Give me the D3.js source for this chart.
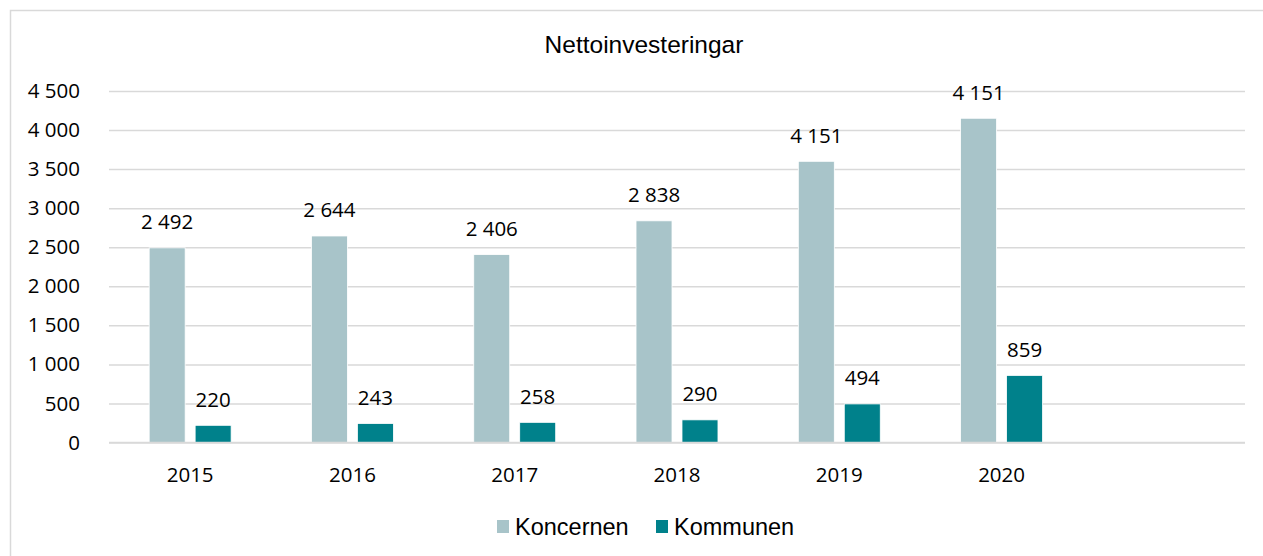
<!DOCTYPE html>
<html>
<head>
<meta charset="utf-8">
<script src="https://cdn.jsdelivr.net/npm/d3@7"></script>
<style>
  html, body { margin: 0; padding: 0; background: #fff; }
  svg { display: block; }
</style>
</head>
<body>
<svg id="chart" width="1263" height="556"></svg>
<script>
// ── Data ──────────────────────────────────────────────────────────────────────
const CATEGORIES   = ['2015', '2016', '2017', '2018', '2019', '2020', ''];
const SERIES       = ['Koncernen', 'Kommunen'];
const KONCERNEN    = [2492, 2644, 2406, 2838, 3600, 4151];
const KOMMUNEN     = [220, 243, 258, 290, 494, 859];
// labels as printed in the source (2019 label repeats 4 151)
const KONCERNEN_LABELS = [2492, 2644, 2406, 2838, 4151, 4151];
const KOMMUNEN_LABELS  = [220, 243, 258, 290, 494, 859];
const Y_TICKS      = [0, 500, 1000, 1500, 2000, 2500, 3000, 3500, 4000, 4500];
const TITLE        = 'Nettoinvesteringar';

// ── Style ─────────────────────────────────────────────────────────────────────
const COLORS   = { Koncernen: '#a8c4c9', Kommunen: '#00818b' };
const GRID     = '#d9d9d9';
const NUM_FONT = '"Open Sans", sans-serif';
const TXT_FONT = '"Liberation Sans", Arial, sans-serif';

const W = 1263, H = 556;
const plot = { left: 109, right: 1245, top: 91, bottom: 442.5 };

const fmt = d3.formatLocale({ decimal: ',', thousands: ' ', grouping: [3], currency: ['', ''] }).format(',d');

const svg = d3.select('#chart');

// chart frame
svg.append('rect')
  .attr('x', 10.5).attr('y', 10.5)
  .attr('width', W + 20).attr('height', H + 20)
  .attr('fill', '#fff').attr('stroke', GRID).attr('stroke-width', 1.5);

// ── Scales ────────────────────────────────────────────────────────────────────
const x0 = d3.scaleBand()
  .domain(CATEGORIES)
  .range([plot.left, plot.right])
  .paddingInner(0.495)
  .paddingOuter(0.2475);

const x1 = d3.scaleBand()
  .domain(SERIES)
  .range([0, x0.bandwidth()])
  .paddingInner(0.217);

const y = d3.scaleLinear()
  .domain([0, 4500])
  .range([plot.bottom, plot.top]);

// ── Gridlines + y labels ──────────────────────────────────────────────────────
const yAxis = svg.append('g')
  .attr('transform', `translate(${plot.left},0)`)
  .call(d3.axisLeft(y).tickValues(Y_TICKS).tickFormat(fmt)
    .tickSize(-(plot.right - plot.left)).tickPadding(29));
yAxis.select('.domain').remove();
yAxis.selectAll('.tick line').attr('stroke', GRID).attr('stroke-width', 1.5);
yAxis.selectAll('.tick text')
  .attr('fill', '#000')
  .style('font-family', NUM_FONT).style('font-size', '20.5px');

// ── Bars ──────────────────────────────────────────────────────────────────────
const rows = KONCERNEN.map((v, i) => ({
  cat: CATEGORIES[i],
  items: [
    { key: 'Koncernen', value: v, label: KONCERNEN_LABELS[i] },
    { key: 'Kommunen', value: KOMMUNEN[i], label: KOMMUNEN_LABELS[i] }
  ]
}));

const groups = svg.append('g').selectAll('g')
  .data(rows).join('g')
  .attr('transform', d => `translate(${x0(d.cat)},0)`);

groups.selectAll('rect')
  .data(d => d.items).join('rect')
  .attr('x', d => x1(d.key))
  .attr('width', x1.bandwidth())
  .attr('y', d => y(d.value))
  .attr('height', d => y(0) - y(d.value))
  .attr('fill', d => COLORS[d.key])
  .attr('stroke', '#fff').attr('stroke-width', 0.8);

groups.selectAll('text')
  .data(d => d.items).join('text')
  .attr('x', d => x1(d.key) + x1.bandwidth() / 2)
  .attr('y', d => y(d.value) - 26)
  .attr('dy', '0.36em')
  .attr('text-anchor', 'middle')
  .style('font-family', NUM_FONT).style('font-size', '20.5px')
  .text(d => fmt(d.label));

// ── X axis ────────────────────────────────────────────────────────────────────
svg.append('line')
  .attr('x1', plot.left).attr('x2', plot.right)
  .attr('y1', y(0)).attr('y2', y(0))
  .attr('stroke', GRID).attr('stroke-width', 1.5);

svg.append('g').selectAll('text')
  .data(CATEGORIES.filter(c => c)).join('text')
  .attr('x', d => x0(d) + x0.bandwidth() / 2)
  .attr('y', 475)
  .attr('dy', '0.36em')
  .attr('text-anchor', 'middle')
  .style('font-family', NUM_FONT).style('font-size', '20.5px')
  .text(d => d);

// ── Title ─────────────────────────────────────────────────────────────────────
svg.append('text')
  .attr('x', 644).attr('y', 53)
  .attr('text-anchor', 'middle')
  .style('font-family', TXT_FONT).style('font-size', '24.5px')
  .text(TITLE);

// ── Legend ────────────────────────────────────────────────────────────────────
const legendX = [497, 656];
const legend = svg.append('g').selectAll('g')
  .data(SERIES).join('g')
  .attr('transform', (d, i) => `translate(${legendX[i]},520)`);
legend.append('rect')
  .attr('width', 12).attr('height', 13)
  .attr('fill', d => COLORS[d]);
legend.append('text')
  .attr('x', 18).attr('y', 14.5)
  .style('font-family', TXT_FONT).style('font-size', '23.5px')
  .text(d => d);
</script>
</body>
</html>
